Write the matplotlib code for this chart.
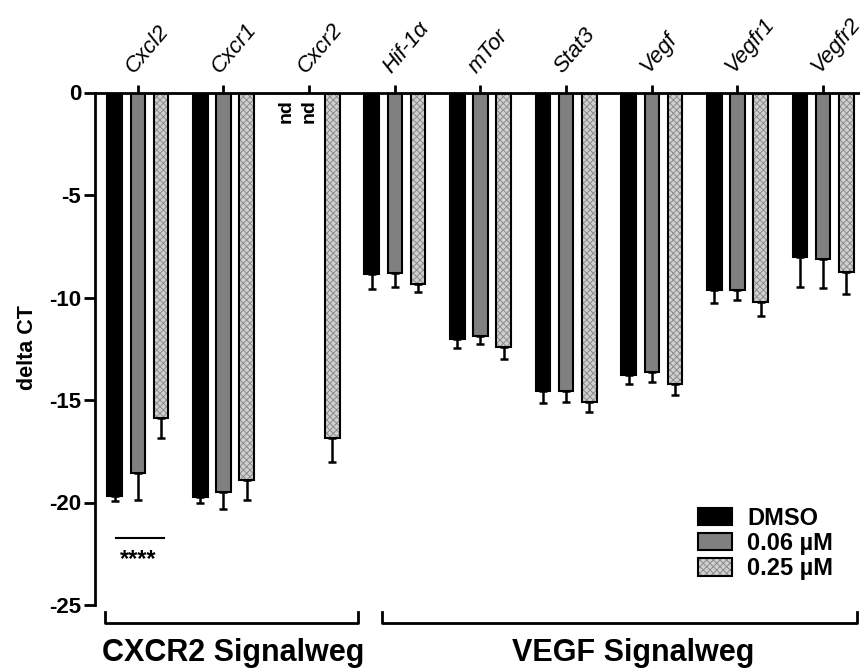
import numpy as np
import matplotlib
matplotlib.use('Agg')
import matplotlib.pyplot as plt
from matplotlib.patches import Patch
from matplotlib.legend_handler import HandlerTuple

plt.rcParams['font.family'] = ['Liberation Sans', 'DejaVu Sans']
plt.rcParams['hatch.linewidth'] = 0.7

# data
genes = ['Cxcl2', 'Cxcr1', 'Cxcr2', 'Hif-1α', 'mTor', 'Stat3', 'Vegf', 'Vegfr1', 'Vegfr2']
series = ['DMSO', '0.06 µM', '0.25 µM']
dmso = [-19.7, -19.75, np.nan, -8.87, -12.0, -14.55, -13.78, -9.63, -8.04]
dmso_err = [0.25, 0.25, np.nan, 0.73, 0.48, 0.61, 0.44, 0.62, 1.45]
low = [-18.55, -19.5, np.nan, -8.82, -11.86, -14.56, -13.63, -9.62, -8.14]
low_err = [1.35, 0.8, np.nan, 0.65, 0.41, 0.54, 0.51, 0.5, 1.38]
high = [-15.9, -18.9, -16.85, -9.34, -12.43, -15.1, -14.2, -10.23, -8.77]
high_err = [0.93, 1.0, 1.15, 0.41, 0.55, 0.49, 0.54, 0.69, 1.07]
yticks = [0, -5, -10, -15, -20, -25]

fig = plt.figure(figsize=(8.6, 6.69), dpi=100)
ax = fig.add_axes([95/860, 1-605/669, 765/860, 512.5/669])

x = np.arange(len(genes))
offsets = [-0.27, 0.0, 0.27]
w = 0.17
lw = 1.5

vals = [dmso, low, high]
errs = [dmso_err, low_err, high_err]
for i, (v, e) in enumerate(zip(vals, errs)):
    v = np.array(v)
    e = np.array(e)
    xp = x + offsets[i]
    ok = ~np.isnan(v)
    # one-sided error bars (downwards)
    ax.errorbar(xp[ok], v[ok], yerr=[e[ok], np.zeros(ok.sum())], fmt='none',
                ecolor='black', elinewidth=1.8, capsize=3, capthick=1.8, zorder=1)
    if i == 0:
        ax.bar(xp[ok], v[ok], w, color='black', edgecolor='black', lw=lw, zorder=2)
    elif i == 1:
        ax.bar(xp[ok], v[ok], w, color='#808080', edgecolor='black', lw=lw, zorder=2)
    else:
        ax.bar(xp[ok], v[ok], w, color='#d0d0d0', edgecolor='#8c8c8c', hatch='xxxxx', lw=0, zorder=2)
        ax.bar(xp[ok], v[ok], w, fill=False, edgecolor='black', lw=lw, zorder=3)
    # not detected
    for xi in xp[~ok]:
        ax.text(xi, -0.3, 'nd', rotation=90, ha='center', va='top',
                fontsize=14, fontweight='bold')

ax.set_xlim(-0.5, 8.43)
ax.set_ylim(-25, 0)
ax.xaxis.tick_top()
ax.set_xticks(x)
ax.set_xticklabels(genes, rotation=50, ha='left', rotation_mode='anchor',
                   fontsize=16, style='italic')
ax.tick_params(axis='x', direction='out', length=6, width=2, pad=5)
ax.set_yticks(yticks)
ax.set_yticklabels([str(t) for t in yticks], fontsize=16, fontweight='bold')
ax.tick_params(axis='y', direction='out', length=8, width=2, pad=2)
for s in ['right', 'bottom']:
    ax.spines[s].set_visible(False)
for s in ['left', 'top']:
    ax.spines[s].set_linewidth(2)

fig.text(27.5/860, 1-348/669, 'delta CT', rotation=90, ha='center', va='center',
         fontsize=15.5, fontweight='bold')

# significance
ax.plot([-0.25, 0.30], [-21.75, -21.75], color='black', lw=1.5)
ax.text(0.0, -23.1, '****', ha='center', va='baseline', fontsize=17, fontweight='bold')

# group brackets
for x0, x1 in [(-0.38, 2.57), (2.85, 8.40)]:
    ax.plot([x0, x0, x1, x1], [-25.33, -25.9, -25.9, -25.33], color='black',
            lw=2, clip_on=False, solid_joinstyle='round')
fig.text(233/860, 8/669, 'CXCR2 Signalweg', ha='center', va='baseline',
         fontsize=22, fontweight='bold')
fig.text(633/860, 8/669, 'VEGF Signalweg', ha='center', va='baseline',
         fontsize=22, fontweight='bold')

handles = [
    Patch(facecolor='black', edgecolor='black', lw=lw),
    Patch(facecolor='#808080', edgecolor='black', lw=lw),
    (Patch(facecolor='#d0d0d0', edgecolor='#8c8c8c', hatch='xxxxx', lw=0),
     Patch(fill=False, edgecolor='black', lw=lw)),
]
ax.legend(handles, series, loc='upper left', bbox_to_anchor=(0.788, 0.192),
          frameon=False, borderpad=0, borderaxespad=0, handlelength=1.45,
          handleheight=0.75, handletextpad=0.65, labelspacing=0.1,
          prop={'weight': 'bold', 'size': 17},
          handler_map={tuple: HandlerTuple(ndivide=1)})

fig.savefig('out.png', dpi=100)
